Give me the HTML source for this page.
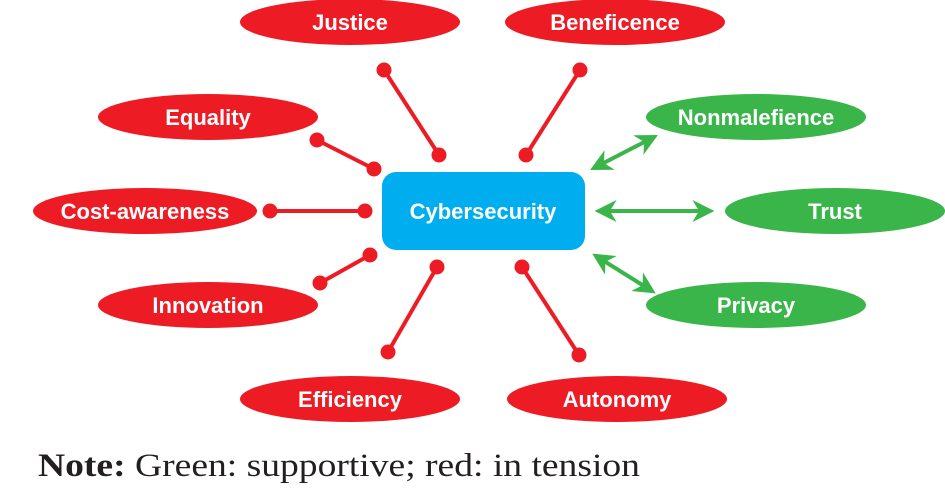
<!DOCTYPE html>
<html><head><meta charset="utf-8"><style>
html,body{margin:0;padding:0;background:#fff;width:945px;height:489px;overflow:hidden}
svg text{font-family:"Liberation Sans","DejaVu Sans",sans-serif;font-weight:bold;fill:#fff}
</style></head><body>
<svg width="945" height="489" viewBox="0 0 945 489" xmlns="http://www.w3.org/2000/svg">
<defs>
<marker id="ah" viewBox="0 0 10 10" refX="8" refY="5" markerWidth="5.5" markerHeight="5.5" orient="auto-start-reverse">
<path d="M0,0 L10,5 L0,10 L3,5 Z" fill="#39b54a"/>
</marker>
</defs>
<g fill="#ed1c24">
<ellipse cx="350" cy="22" rx="110" ry="23"/>
<ellipse cx="615" cy="22" rx="110" ry="23"/>
<ellipse cx="208" cy="117" rx="110" ry="23"/>
<ellipse cx="145" cy="211" rx="112" ry="23"/>
<ellipse cx="208" cy="305" rx="110" ry="23"/>
<ellipse cx="350" cy="399" rx="110" ry="23"/>
<ellipse cx="617" cy="399" rx="110" ry="23"/>
</g>
<g fill="#39b54a">
<ellipse cx="756" cy="117" rx="110" ry="23"/>
<ellipse cx="835" cy="211" rx="110" ry="23"/>
<ellipse cx="756" cy="305" rx="110" ry="23"/>
</g>
<rect x="382" y="172" width="203" height="78" rx="14" fill="#00aeef"/>
<g stroke="#ed1c24" stroke-width="4" fill="#ed1c24">
<line x1="384" y1="70" x2="439" y2="155"/>
<line x1="580" y1="70" x2="526" y2="155"/>
<line x1="317" y1="140" x2="374" y2="169"/>
<line x1="270" y1="211" x2="365" y2="211"/>
<line x1="320" y1="283" x2="370" y2="255"/>
<line x1="388" y1="352" x2="437" y2="267"/>
<line x1="522" y1="267" x2="579" y2="355"/>
</g>
<g fill="#ed1c24">
<circle cx="384" cy="70" r="7.5"/><circle cx="439" cy="155" r="7.5"/>
<circle cx="580" cy="70" r="7.5"/><circle cx="526" cy="155" r="7.5"/>
<circle cx="317" cy="140" r="7.5"/><circle cx="374" cy="169" r="7.5"/>
<circle cx="270" cy="211" r="7.5"/><circle cx="365" cy="211" r="7.5"/>
<circle cx="320" cy="283" r="7.5"/><circle cx="370" cy="255" r="7.5"/>
<circle cx="388" cy="352" r="7.5"/><circle cx="437" cy="267" r="7.5"/>
<circle cx="522" cy="267" r="7.5"/><circle cx="579" cy="355" r="7.5"/>
</g>
<g stroke="#39b54a" stroke-width="4">
<line x1="594" y1="168" x2="654" y2="137" marker-start="url(#ah)" marker-end="url(#ah)"/>
<line x1="599" y1="211" x2="710" y2="211" marker-start="url(#ah)" marker-end="url(#ah)"/>
<line x1="596" y1="256" x2="652" y2="291" marker-start="url(#ah)" marker-end="url(#ah)"/>
</g>
<g font-size="22" text-anchor="middle">
<text x="350" y="30">Justice</text>
<text x="615" y="30">Beneficence</text>
<text x="208" y="125">Equality</text>
<text x="145" y="219">Cost-awareness</text>
<text x="208" y="313">Innovation</text>
<text x="350" y="407">Efficiency</text>
<text x="617" y="407">Autonomy</text>
<text x="756" y="125">Nonmalefience</text>
<text x="835" y="219">Trust</text>
<text x="756" y="313">Privacy</text>
<text x="483" y="219">Cybersecurity</text>
</g>
<text x="38" y="476" style="font-family:'Liberation Serif',serif;font-weight:normal;fill:#231f20" font-size="33" textLength="602" lengthAdjust="spacingAndGlyphs"><tspan font-weight="bold">Note:</tspan> Green: supportive; red: in tension</text>
</svg>
</body></html>
